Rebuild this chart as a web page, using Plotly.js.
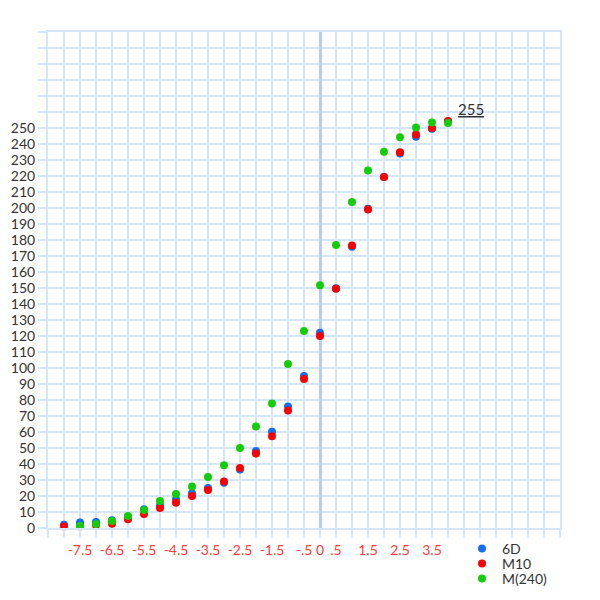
<!DOCTYPE html>
<html>
<head>
<meta charset="utf-8">
<script src="https://cdn.plot.ly/plotly-3.0.1.min.js"></script>
<style>html,body{margin:0;padding:0;background:#fff;}#chart{width:600px;height:600px;}</style>
</head>
<body>
<div id="chart"></div>
<script>
// Data
const xMain = [-8, -7.5, -7, -6.5, -6, -5.5, -5, -4.5, -4, -3.5, -3, -2.5, -2, -1.5, -1, -0.5, 0, 0.5, 1, 1.5, 2, 2.5, 3, 3.5, 4];
const series6D = [2.1, 3.4, 3.8, 4.8, 6.7, 11.7, 14.2, 17.9, 21.7, 25, 28.3, 36.5, 48.1, 60.2, 76, 95, 122, 149.8, 175.8, 199.6, 219.4, 234, 244.5, 249.6, 254];
const seriesM10 = [1, 1, 1.7, 2.7, 5.4, 8.8, 12.5, 15.8, 20, 23.8, 29, 37.5, 46.5, 57.3, 73.4, 93.1, 120, 149.6, 176.5, 199, 219.4, 234.8, 246, 250, 254.4];
const xM240 = [-7.5, -7, -6.5, -6, -5.5, -5, -4.5, -4, -3.5, -3, -2.5, -2, -1.5, -1, -0.5, 0, 0.5, 1, 1.5, 2, 2.5, 3, 3.5, 4];
const seriesM240 = [1.3, 2.5, 4.4, 7.5, 11.3, 16.9, 21.3, 26, 31.9, 39.2, 50, 63.5, 77.8, 102.5, 123.1, 151.7, 176.9, 203.8, 223.4, 235.1, 244.2, 250.3, 253.4, 253.2];
const seriesNames = ["6D", "M10", "M(240)"];

// Axis ticks
const xGridVals = [];
for (let v = -8.5; v <= 7.5001; v += 0.5) xGridVals.push(Math.round(v * 10) / 10);
const xLabelMap = {"-7.5": "-7.5", "-6.5": "-6.5", "-5.5": "-5.5", "-4.5": "-4.5", "-3.5": "-3.5", "-2.5": "-2.5", "-1.5": "-1.5", "-0.5": "-.5", "0": "0", "0.5": ".5", "1.5": "1.5", "2.5": "2.5", "3.5": "3.5"};
const xTickText = xGridVals.map(v => xLabelMap[String(v)] || "");
const yGridVals = [];
for (let v = 0; v <= 310; v += 10) yGridVals.push(v);
const yTickText = yGridVals.map(v => v <= 250 ? String(v) : "");
const annotationText = "255";

const gridColor = "rgb(214,230,250)";
const fontFam = "Lato, 'Open Sans', sans-serif";

const mk = (color) => ({size: 8, color: color, line: {width: 0}});

const traces = [
  {x: xMain, y: series6D, name: seriesNames[0], mode: "markers", type: "scatter", marker: mk("rgb(20,110,240)"), cliponaxis: false, legend: "legend"},
  {x: xMain, y: seriesM10, name: seriesNames[1], mode: "markers", type: "scatter", marker: mk("rgb(250,0,0)"), cliponaxis: false, legend: "legend2"},
  {x: xM240, y: seriesM240, name: seriesNames[2], mode: "markers", type: "scatter", marker: mk("rgb(20,205,10)"), cliponaxis: false, legend: "legend3"}
];

const legendBase = (y) => ({
  x: 462 / 600, xanchor: "left", y: y, yanchor: "middle", yref: "container", xref: "container",
  bgcolor: "rgba(0,0,0,0)", borderwidth: 0,
  font: {family: fontFam, size: 14, color: "#333"},
  itemwidth: 30, tracegroupgap: 0
});

const layout = {
  width: 600, height: 600,
  margin: {l: 48, r: 40, t: 32, b: 72, autoexpand: false},
  paper_bgcolor: "#fff", plot_bgcolor: "#fff",
  showlegend: true,
  legend: legendBase(1 - 549 / 600),
  legend2: legendBase(1 - 564 / 600),
  legend3: legendBase(1 - 579 / 600),
  xaxis: {
    range: [-8.5, 7.5], tickmode: "array", tickvals: xGridVals, ticktext: xTickText,
    showgrid: true, gridcolor: gridColor, gridwidth: 2,
    zeroline: true, zerolinecolor: "rgb(180,205,242)", zerolinewidth: 3,
    ticks: "outside", ticklen: 8, tickwidth: 2, tickcolor: gridColor,
    tickfont: {family: fontFam, size: 14, color: "rgb(255,60,60)"},
    showline: true, linecolor: gridColor, linewidth: 2, mirror: true,
    tickangle: 0, fixedrange: true, automargin: false
  },
  yaxis: {
    range: [0, 310], tickmode: "array", tickvals: yGridVals, ticktext: yTickText,
    showgrid: true, gridcolor: gridColor, gridwidth: 2,
    zeroline: false,
    ticks: "outside", ticklen: 8, tickwidth: 2, tickcolor: gridColor,
    tickfont: {family: fontFam, size: 14, color: "#333"},
    showline: true, linecolor: gridColor, linewidth: 2, mirror: true,
    fixedrange: true, automargin: false
  },
  annotations: [{
    x: 4.71, y: 255, xref: "x", yref: "y", text: "<u>" + annotationText + "</u>",
    showarrow: false, xanchor: "center", yanchor: "bottom",
    font: {family: fontFam, size: 15, color: "#333"}
  }]
};

Plotly.newPlot("chart", traces, layout, {displayModeBar: false, staticPlot: true});
</script>
</body>
</html>
